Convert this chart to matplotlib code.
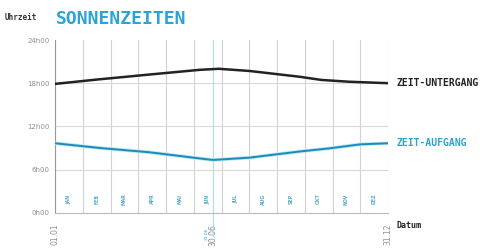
import matplotlib.pyplot as plt

# Monate seit 01.01 (0..12) und Uhrzeit in Stunden
sunset_x = [0, 1.5, 3.4, 5.2, 5.9, 7.0, 8.8, 9.6, 10.6, 12]
sunset_h = [17.9, 18.5, 19.2, 19.85, 20.0, 19.7, 18.9, 18.45, 18.2, 18.0]

sunrise_x = [0, 1.6, 3.4, 5.2, 5.7, 7.0, 8.8, 9.9, 11.0, 12]
sunrise_h = [9.65, 9.0, 8.4, 7.55, 7.33, 7.65, 8.5, 8.95, 9.5, 9.65]

y_ticks = [0, 6, 12, 18, 24]
y_labels = ['0h00', '6h00', '12h00', '18h00', '24h00']
x_ticks = [0, 5.7, 12]
x_labels = ['01.01', '30.06', '31.12']
months = ['JAN', 'FEB', 'MAR', 'APR', 'MAI', 'JUN',
          'JUL', 'AUG', 'SEP', 'OKT', 'NOV', 'DEZ']

cyan = '#2aa3d6'
grey = '#8f8f8f'

fig = plt.figure(figsize=(4.97, 2.48), dpi=100)
ax = fig.add_axes([0.1107, 0.1423, 0.670, 0.6964])

# Gitter
for m in range(13):
    ax.axvline(m, color='#d2d2d2', lw=0.8, zorder=1)
for h in [6, 12, 18]:
    ax.axhline(h, color='#dcd6d6', lw=0.8, zorder=1)

# Sonnenwende-Linie
ax.plot([5.7, 5.7], [-3.3, 24], color='#a6def2', lw=0.8, clip_on=False, zorder=2)

# Kurven mit leichtem Schein
ax.plot(sunrise_x, sunrise_h, color='#b5e8f8', lw=2.6, solid_capstyle='round', zorder=3)
ax.plot(sunrise_x, sunrise_h, color='#1f8ab8', lw=1.4, zorder=4)
ax.plot(sunset_x, sunset_h, color='#222222', lw=1.8, zorder=4)

for i, m in enumerate(months):
    ax.text(i + 0.5, 1.9, m, rotation=90, color='#3a9cc4', fontsize=3.4,
            ha='center', va='center', weight='bold', alpha=0.85)

ax.set_xlim(0, 12)
ax.set_ylim(0, 24)
ax.set_yticks(y_ticks)
ax.set_yticklabels(y_labels, fontsize=5, color=grey)
ax.set_xticks(x_ticks)
ax.set_xticklabels(x_labels, rotation=90, fontsize=5.5, color=grey)
ax.tick_params(length=0, pad=4)
ax.tick_params(axis='x', pad=8)
for s in ['top', 'right']:
    ax.spines[s].set_visible(False)
ax.spines['left'].set_color('#999999')
ax.spines['bottom'].set_color('#bbbbbb')

ax.text(5.45, -3.0, '21.06', rotation=90, fontsize=3.2, color=cyan,
        ha='center', va='center', clip_on=False)

mono = 'DejaVu Sans Mono'
ax.text(12.3, 18.0, 'ZEIT-UNTERGANG', fontsize=7, family=mono, weight='bold',
        color='#222222', va='center', ha='left', clip_on=False)
ax.text(12.3, 9.7, 'ZEIT-AUFGANG', fontsize=7, family=mono, weight='bold',
        color=cyan, va='center', ha='left', clip_on=False)
ax.text(12.3, -1.8, 'Datum', fontsize=6, family=mono, weight='bold',
        color='#222222', va='center', ha='left', clip_on=False)

fig.text(0.01, 0.93, 'Uhrzeit', fontsize=5.5, family=mono, weight='bold',
         color='#333333', va='center', ha='left')
fig.text(0.113, 0.925, 'SONNENZEITEN', fontsize=13, family=mono, weight='bold',
         color=cyan, va='center', ha='left')

fig.savefig('out.png', dpi=100)
